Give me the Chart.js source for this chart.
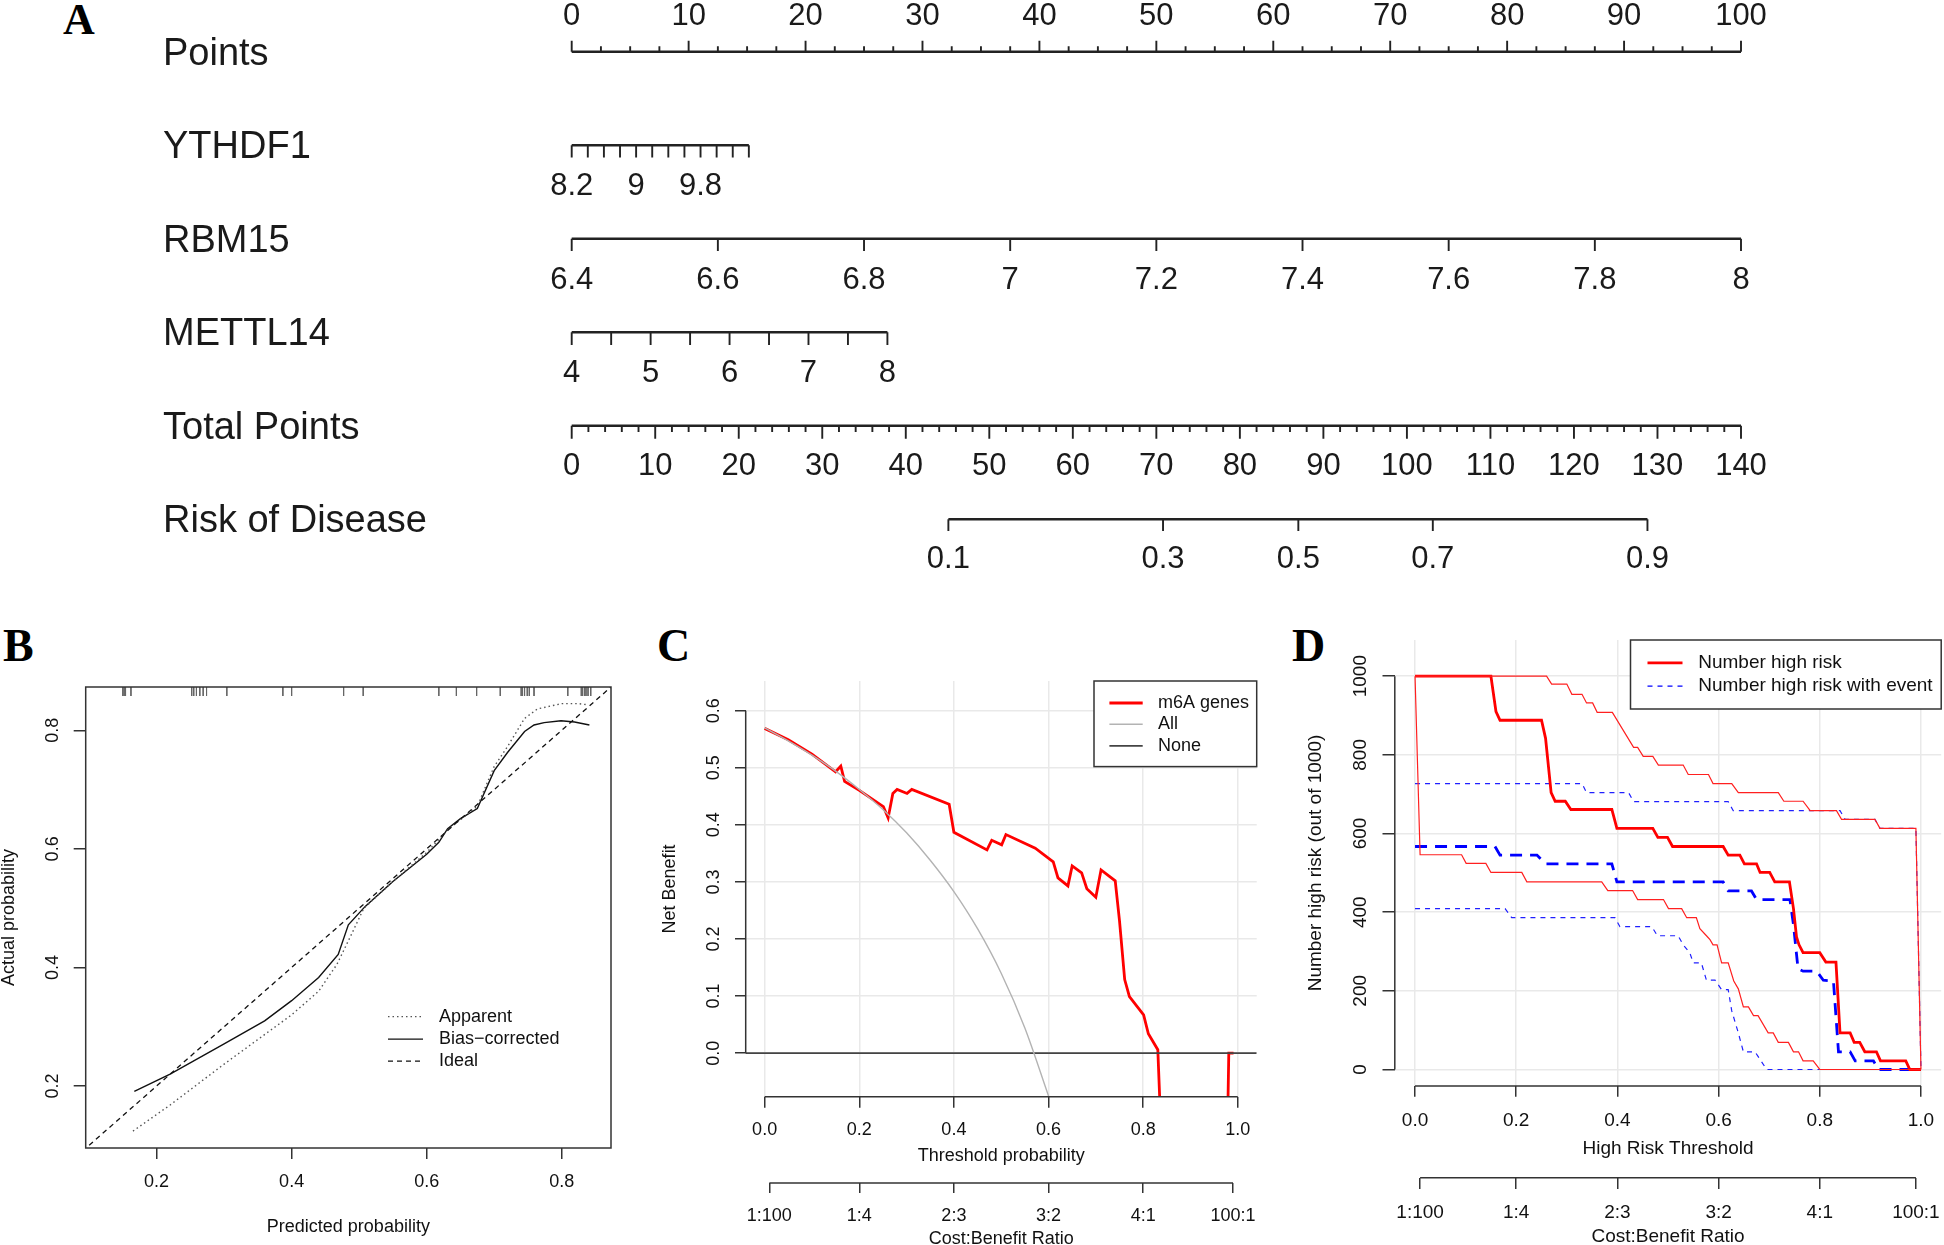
<!DOCTYPE html>
<html>
<head>
<meta charset="utf-8">
<script src="https://cdn.jsdelivr.net/npm/chart.js@4.4.1/dist/chart.umd.min.js"></script>
<style>
  html, body { margin: 0; padding: 0; background: #fff; }
  body { width: 1944px; height: 1245px; position: relative; overflow: hidden; }
  canvas { position: absolute; }
  .tag { position: absolute; font-family: "Liberation Serif", "Times New Roman", serif; font-weight: bold; line-height: 1; color: #000; }
</style>
</head>
<body>
<div class="tag" style="left:63px; top:-2px; font-size:44px;">A</div>
<div class="tag" style="left:3px; top:623px; font-size:46px;">B</div>
<div class="tag" style="left:657px; top:623px; font-size:46px;">C</div>
<div class="tag" style="left:1292px; top:623px; font-size:46px;">D</div>

<canvas id="nomo" width="1944" height="600" style="left:0; top:0;"></canvas>
<canvas id="calib" width="640" height="575" style="left:0; top:670px;"></canvas>
<canvas id="dca" width="640" height="590" style="left:640px; top:670px;"></canvas>
<canvas id="cic" width="664" height="640" style="left:1280px; top:620px;"></canvas>

<script>
// ---------- A: nomogram ----------
const nomoRows = ["Points", "YTHDF1", "RBM15", "METTL14", "Total Points", "Risk of Disease"];
const pointsTicks = [0, 10, 20, 30, 40, 50, 60, 70, 80, 90, 100];
const ythdf1Ticks = [8.2, 8.4, 8.6, 8.8, 9.0, 9.2, 9.4, 9.6, 9.8, 10.0, 10.2, 10.4];
const ythdf1Labels = [8.2, 9, 9.8];
const ythdf1Points = [0, 15.15];
const rbm15Ticks = [6.4, 6.6, 6.8, 7, 7.2, 7.4, 7.6, 7.8, 8];
const rbm15Points = [0, 100];
const mettl14Ticks = [4, 4.5, 5, 5.5, 6, 6.5, 7, 7.5, 8];
const mettl14Labels = [4, 5, 6, 7, 8];
const mettl14Points = [0, 27.0];
const totalTicks = [0, 10, 20, 30, 40, 50, 60, 70, 80, 90, 100, 110, 120, 130, 140];
const totalMax = 140;
const riskLabels = ["0.1", "0.3", "0.5", "0.7", "0.9"];
const riskTotalPoints = [45.1, 70.8, 87.0, 103.1, 128.8];

// ---------- B: calibration ----------
const calTicks = [0.2, 0.4, 0.6, 0.8];
const apparentPred = [0.165, 0.22, 0.30, 0.40, 0.44, 0.467, 0.487, 0.507, 0.55, 0.60, 0.633, 0.652, 0.675, 0.70, 0.72, 0.745, 0.764, 0.80, 0.824, 0.839];
const apparentObs  = [0.124, 0.168, 0.237, 0.320, 0.360, 0.405, 0.452, 0.500, 0.545, 0.594, 0.634, 0.651, 0.672, 0.739, 0.773, 0.820, 0.836, 0.845, 0.845, 0.843];
const biasPred = [0.167, 0.22, 0.30, 0.36, 0.40, 0.44, 0.469, 0.484, 0.509, 0.55, 0.60, 0.618, 0.631, 0.650, 0.675, 0.70, 0.72, 0.745, 0.759, 0.774, 0.799, 0.819, 0.841];
const biasObs  = [0.191, 0.220, 0.271, 0.310, 0.344, 0.383, 0.422, 0.472, 0.503, 0.545, 0.591, 0.611, 0.634, 0.651, 0.668, 0.732, 0.763, 0.798, 0.809, 0.813, 0.816, 0.814, 0.809];
const idealProb = [0, 1];
const rugPred = [0.150, 0.152, 0.154, 0.162, 0.252, 0.255, 0.259, 0.264, 0.269, 0.274, 0.304, 0.387, 0.400, 0.477, 0.506, 0.618, 0.644, 0.674, 0.709, 0.740, 0.742, 0.745, 0.749, 0.752, 0.759, 0.809, 0.829, 0.831, 0.834, 0.836, 0.839, 0.843];

// ---------- C: decision curve ----------
const probTicks = [0, 0.2, 0.4, 0.6, 0.8, 1.0];
const nbTicks = [0, 0.1, 0.2, 0.3, 0.4, 0.5, 0.6];
const costTicks = [0.01, 0.2, 0.4, 0.6, 0.8, 0.99];
const costLabels = ["1:100", "1:4", "2:3", "3:2", "4:1", "100:1"];
const nbThreshold = [0, 0.05, 0.10, 0.150, 0.161, 0.169, 0.201, 0.251, 0.261, 0.271, 0.280, 0.301, 0.311, 0.390, 0.400, 0.470, 0.480, 0.501, 0.510, 0.572, 0.610, 0.620, 0.641, 0.650, 0.670, 0.681, 0.700, 0.711, 0.741, 0.750, 0.761, 0.771, 0.801, 0.811, 0.831, 0.836, 0.90, 0.979, 0.981, 0.991];
const nbModel = [0.569, 0.549, 0.524, 0.493, 0.503, 0.476, 0.460, 0.432, 0.412, 0.455, 0.462, 0.455, 0.462, 0.436, 0.387, 0.356, 0.373, 0.365, 0.383, 0.359, 0.335, 0.307, 0.293, 0.328, 0.316, 0.288, 0.273, 0.321, 0.302, 0.232, 0.129, 0.099, 0.067, 0.034, 0.006, -0.1, null, -0.1, 0, 0];
const nbAllThreshold = [0, 0.05, 0.10, 0.15, 0.20, 0.25, 0.30, 0.35, 0.40, 0.45, 0.50, 0.55, 0.60];
const nbAll = [0.570, 0.547, 0.522, 0.494, 0.462, 0.427, 0.386, 0.338, 0.283, 0.218, 0.140, 0.044, -0.075];
const nbNoneThreshold = [-0.04, 1.04];
const nbNone = [0, 0];

// ---------- D: clinical impact ----------
const impactTicks = [0, 200, 400, 600, 800, 1000];
const highRiskX = [0, 0.150, 0.160, 0.168, 0.250, 0.258, 0.269, 0.277, 0.297, 0.308, 0.389, 0.399, 0.470, 0.480, 0.499, 0.509, 0.609, 0.619, 0.642, 0.651, 0.675, 0.682, 0.701, 0.711, 0.740, 0.748, 0.754, 0.759, 0.767, 0.800, 0.812, 0.832, 0.840, 0.860, 0.868, 0.879, 0.889, 0.912, 0.920, 0.970, 0.978, 1.0];
const highRisk  = [1000, 1000, 910, 888, 888, 842, 704, 682, 682, 661, 661, 613, 613, 590, 590, 567, 567, 545, 545, 523, 523, 501, 501, 477, 477, 409, 337, 317, 297, 297, 273, 273, 93, 93, 69, 69, 45, 45, 22, 22, 0, 0];
const highRiskUpX = [0, 0.260, 0.270, 0.300, 0.310, 0.330, 0.339, 0.351, 0.360, 0.390, 0.432, 0.440, 0.451, 0.470, 0.481, 0.530, 0.540, 0.580, 0.589, 0.626, 0.639, 0.718, 0.729, 0.767, 0.781, 0.833, 0.843, 0.909, 0.919, 0.990, 1.0];
const highRiskUp  = [1000, 1000, 980, 980, 954, 954, 932, 932, 908, 908, 819, 819, 796, 796, 774, 774, 750, 750, 727, 727, 704, 704, 682, 682, 658, 658, 636, 636, 613, 613, 0];
const highRiskLoX = [0, 0.010, 0.092, 0.101, 0.140, 0.150, 0.211, 0.221, 0.369, 0.381, 0.430, 0.440, 0.491, 0.501, 0.527, 0.537, 0.556, 0.563, 0.576, 0.583, 0.589, 0.597, 0.606, 0.619, 0.630, 0.639, 0.649, 0.659, 0.669, 0.678, 0.698, 0.708, 0.718, 0.738, 0.748, 0.758, 0.767, 0.787, 0.800, 1.0];
const highRiskLo  = [1000, 546, 546, 524, 524, 501, 501, 477, 477, 455, 455, 432, 432, 409, 409, 386, 386, 358, 340, 330, 317, 317, 271, 271, 225, 205, 159, 159, 137, 137, 93, 93, 69, 69, 45, 45, 22, 22, 0, 0];
const eventX = [0, 0.158, 0.168, 0.241, 0.258, 0.389, 0.399, 0.609, 0.619, 0.665, 0.675, 0.741, 0.748, 0.757, 0.767, 0.794, 0.807, 0.827, 0.837, 0.860, 0.870, 0.906, 0.916, 1.0];
const event  = [567, 567, 545, 545, 523, 523, 477, 477, 454, 454, 432, 432, 368, 256, 250, 250, 227, 225, 45, 45, 22, 22, 0, 0];
const eventUpX = [0, 0.330, 0.339, 0.422, 0.432, 0.619, 0.629, 0.840, 0.850, 0.909, 0.919, 0.990, 1.0];
const eventUp  = [727, 727, 704, 704, 681, 681, 658, 658, 636, 636, 613, 613, 0];
const eventLoX = [0, 0.178, 0.191, 0.395, 0.405, 0.468, 0.479, 0.520, 0.530, 0.543, 0.550, 0.566, 0.576, 0.593, 0.606, 0.619, 0.626, 0.639, 0.649, 0.672, 0.695, 1.0];
const eventLo  = [409, 409, 386, 386, 363, 363, 340, 340, 317, 297, 271, 271, 227, 227, 203, 203, 149, 93, 45, 45, 0, 0];

// ---------- common ----------
const FONT = '"Liberation Sans", Arial, sans-serif';
const AXIS = "#333";
const TEXT = "#111";
Chart.defaults.font.family = FONT;
Chart.defaults.color = TEXT;
Chart.defaults.animation = false;

const pts = (xs, ys) => xs.map((x, i) => ({ x: x, y: ys[i] }));
const lin = (v, d, p) => p[0] + (v - d[0]) * (p[1] - p[0]) / (d[1] - d[0]);

// draws a legend block, offsets relative to the plot region
function legendPlugin(cfg) {
  return {
    id: "rlegend",
    afterDatasetsDraw(chart) {
      const { ctx, chartArea: a } = chart;
      const left = cfg.right ? a.right - cfg.w : a.left + cfg.left;
      const top = a.top + (cfg.top || 0);
      ctx.save();
      if (cfg.box) {
        ctx.fillStyle = "#fff";
        ctx.fillRect(left, top, cfg.w, cfg.h);
        ctx.strokeStyle = AXIS;
        ctx.lineWidth = 1.5;
        ctx.strokeRect(left, top, cfg.w, cfg.h);
      }
      ctx.font = cfg.font;
      ctx.textBaseline = "middle";
      ctx.textAlign = "left";
      cfg.items.forEach((it, i) => {
        const y = top + cfg.rows[i];
        ctx.beginPath();
        ctx.strokeStyle = it.color;
        ctx.lineWidth = it.width;
        ctx.setLineDash(it.dash || []);
        ctx.moveTo(left + cfg.line[0], y);
        ctx.lineTo(left + cfg.line[1], y);
        ctx.stroke();
        ctx.setLineDash([]);
        ctx.fillStyle = TEXT;
        ctx.fillText(it.text, left + cfg.text, y);
      });
      ctx.restore();
    }
  };
}

// R style axis line: only between the first and last tick
const rAxisLines = {
  id: "rAxisLines",
  afterDraw(chart) {
    const ctx = chart.ctx;
    ctx.save();
    ctx.strokeStyle = AXIS;
    ctx.lineWidth = 1.5;
    Object.values(chart.scales).forEach(s => {
      if (!s.options.display || !s.ticks.length) return;
      const a = s.getPixelForValue(s.ticks[0].value);
      const b = s.getPixelForValue(s.ticks[s.ticks.length - 1].value);
      ctx.beginPath();
      if (s.isHorizontal()) { ctx.moveTo(a, s.top); ctx.lineTo(b, s.top); }
      else { ctx.moveTo(s.right, a); ctx.lineTo(s.right, b); }
      ctx.stroke();
    });
    ctx.restore();
  }
};

const boxPlugin = {
  id: "box",
  afterDraw(chart) {
    const { ctx, chartArea: a } = chart;
    ctx.save();
    ctx.strokeStyle = AXIS;
    ctx.lineWidth = 1.5;
    ctx.strokeRect(a.left, a.top, a.right - a.left, a.bottom - a.top);
    ctx.restore();
  }
};

// builds an R-like axis
function axis(o) {
  const horiz = o.horizontal;
  return {
    type: "linear",
    position: o.position,
    weight: o.weight || 0,
    min: o.min,
    max: o.max,
    afterBuildTicks: s => { s.ticks = o.ticks.map(v => ({ value: v })); },
    afterFit: s => {
      if (horiz) s.height = o.size; else s.width = o.size;
      s.paddingLeft = s.paddingRight = s.paddingTop = s.paddingBottom = 0;
    },
    border: { display: false },
    grid: {
      display: true,
      drawOnChartArea: !!o.gridOn,
      color: "#e9e9e9",
      lineWidth: 1.5,
      drawTicks: true,
      tickLength: o.tl,
      tickColor: AXIS,
      tickWidth: 1.5
    },
    ticks: horiz
      ? { autoSkip: false, maxRotation: 0, minRotation: 0, padding: o.pad, font: { size: o.fs }, color: TEXT, callback: o.fmt }
      : { autoSkip: false, minRotation: 90, maxRotation: 90, crossAlign: "center", padding: o.pad, font: { size: o.fs }, color: TEXT, callback: o.fmt },
    title: {
      display: true,
      text: o.title,
      color: TEXT,
      font: { size: o.fs },
      padding: horiz ? { top: 0, bottom: o.tpad } : { top: o.tpad, bottom: 0 }
    }
  };
}
const f1 = v => v.toFixed(1);

// ---------- A ----------
(function () {
  const TOT = v => v * 100 / totalMax;
  const specs = [
    { row: 0, dir: -1, from: 0, to: 100, off: -35,
      ticks: pointsTicks.map(v => ({ p: v, len: 0.118 })),
      labels: pointsTicks.map(v => ({ p: v, t: String(v) })) },
    { row: 1, dir: 1, from: ythdf1Points[0], to: ythdf1Points[1], off: 41.5,
      ticks: ythdf1Ticks.map(v => ({ p: lin(v, [8.2, 10.4], ythdf1Points), len: 0.131 })),
      labels: ythdf1Labels.map(v => ({ p: lin(v, [8.2, 10.4], ythdf1Points), t: String(v) })) },
    { row: 2, dir: 1, from: 0, to: 100, off: 41.5,
      ticks: rbm15Ticks.map(v => ({ p: lin(v, [6.4, 8], rbm15Points), len: 0.131 })),
      labels: rbm15Ticks.map(v => ({ p: lin(v, [6.4, 8], rbm15Points), t: String(v) })) },
    { row: 3, dir: 1, from: mettl14Points[0], to: mettl14Points[1], off: 41.5,
      ticks: mettl14Ticks.map(v => ({ p: lin(v, [4, 8], mettl14Points), len: 0.135 })),
      labels: mettl14Labels.map(v => ({ p: lin(v, [4, 8], mettl14Points), t: String(v) })) },
    { row: 4, dir: 1, from: 0, to: 100, off: 41,
      ticks: totalTicks.map(v => ({ p: TOT(v), len: 0.138 })),
      labels: totalTicks.map(v => ({ p: TOT(v), t: String(v) })) },
    { row: 5, dir: 1, from: TOT(riskTotalPoints[0]), to: TOT(riskTotalPoints[4]), off: 40.5,
      ticks: riskTotalPoints.map(v => ({ p: TOT(v), len: 0.124 })),
      labels: riskTotalPoints.map((v, i) => ({ p: TOT(v), t: riskLabels[i] })) }
  ];
  // minor ticks on Points and Total Points
  for (let v = 2.5; v < 100; v += 2.5) if (v % 10 !== 0) specs[0].ticks.push({ p: v, len: 0.059 });
  for (let v = 2; v < totalMax; v += 2) if (v % 10 !== 0) specs[4].ticks.push({ p: TOT(v), len: 0.067 });

  const lines = [], marks = [];
  specs.forEach(s => {
    lines.push({ x: s.from, y: s.row }, { x: s.to, y: s.row }, { x: s.to, y: null });
    s.ticks.forEach(t => marks.push({ x: t.p, y: s.row }, { x: t.p, y: s.row + s.dir * t.len }, { x: t.p, y: null }));
  });

  const nomoText = {
    id: "nomoText",
    afterDatasetsDraw(chart) {
      const { ctx, scales: { x, y } } = chart;
      ctx.save();
      ctx.fillStyle = "#1a1a1a";
      ctx.textBaseline = "middle";
      ctx.textAlign = "left";
      ctx.font = "38px " + FONT;
      nomoRows.forEach((name, r) => ctx.fillText(name, 163, y.getPixelForValue(r) + 2.5));
      ctx.textAlign = "center";
      ctx.font = "31px " + FONT;
      specs.forEach(s => s.labels.forEach(l => ctx.fillText(l.t, x.getPixelForValue(l.p), y.getPixelForValue(s.row) + s.off)));
      ctx.restore();
    }
  };

  new Chart(document.getElementById("nomo"), {
    type: "scatter",
    data: {
      datasets: [
        { data: lines, showLine: true, spanGaps: false, borderColor: "#222", borderWidth: 2.4, pointRadius: 0, clip: false },
        { data: marks, showLine: true, spanGaps: false, borderColor: "#222", borderWidth: 1.9, pointRadius: 0, clip: false }
      ]
    },
    options: {
      responsive: false,
      layout: { padding: { left: 571.7, right: 203, top: 51.7, bottom: 80.7 }, autoPadding: false },
      plugins: { legend: { display: false }, tooltip: { enabled: false } },
      scales: {
        x: { type: "linear", min: 0, max: 100, display: false },
        y: { type: "linear", min: 0, max: 5, reverse: true, display: false }
      }
    },
    plugins: [nomoText]
  });
})();

// ---------- B ----------
(function () {
  const yMax = 0.873;
  const rug = [];
  rugPred.forEach(v => rug.push({ x: v, y: yMax }, { x: v, y: yMax - 0.0152 }, { x: v, y: null }));
  new Chart(document.getElementById("calib"), {
    type: "scatter",
    data: {
      datasets: [
        { label: "Ideal", data: pts(idealProb, idealProb), showLine: true, borderColor: "#111", borderWidth: 1.3, borderDash: [5, 4], pointRadius: 0 },
        { label: "Apparent", data: pts(apparentPred, apparentObs), showLine: true, borderColor: "#555", borderWidth: 1.4, borderDash: [1.5, 3], pointRadius: 0 },
        { label: "Bias-corrected", data: pts(biasPred, biasObs), showLine: true, borderColor: "#111", borderWidth: 1.4, pointRadius: 0 },
        { label: "rug", data: rug, showLine: true, spanGaps: false, borderColor: "#666", borderWidth: 1, pointRadius: 0 }
      ]
    },
    options: {
      responsive: false,
      layout: { padding: { left: 0, right: 29, top: 17, bottom: 0 }, autoPadding: false },
      plugins: { legend: { display: false }, tooltip: { enabled: false } },
      scales: {
        x: axis({ horizontal: true, position: "bottom", min: 0.095, max: 0.873, ticks: calTicks, size: 97, tl: 11, pad: 12.2, fs: 18, fmt: f1, title: "Predicted probability", tpad: 7.2 }),
        y: axis({ horizontal: false, position: "left", min: 0.0955, max: yMax, ticks: calTicks, size: 85.7, tl: 12, pad: 8.2, fs: 18, fmt: f1, title: "Actual probability", tpad: -2 })
      }
    },
    plugins: [boxPlugin, legendPlugin({
      left: 302.3, top: 0, font: "18px " + FONT, line: [0, 35], text: 51, rows: [329.6, 352.1, 374.1],
      items: [
        { text: "Apparent", color: "#555", width: 1.4, dash: [1.5, 3] },
        { text: "Bias\u2212corrected", color: "#111", width: 1.4 },
        { text: "Ideal", color: "#111", width: 1.3, dash: [5, 4] }
      ]
    })]
  });
})();

// ---------- C ----------
new Chart(document.getElementById("dca"), {
  type: "scatter",
  data: {
    datasets: [
      { label: "All", data: pts(nbAllThreshold, nbAll), showLine: true, borderColor: "#b3b3b3", borderWidth: 1.4, pointRadius: 0, cubicInterpolationMode: "monotone", clip: 0 },
      { label: "None", data: pts(nbNoneThreshold, nbNone), showLine: true, borderColor: "#444", borderWidth: 1.8, pointRadius: 0, clip: 0 },
      { label: "m6A genes", data: pts(nbThreshold, nbModel), showLine: true, spanGaps: false, borderColor: "#ff0000", borderWidth: 2.8, pointRadius: 0, clip: 0 }
    ]
  },
  options: {
    responsive: false,
    layout: { padding: { left: 0, right: 23.3, top: 11, bottom: 0 }, autoPadding: false },
    plugins: { legend: { display: false }, tooltip: { enabled: false } },
    scales: {
      x: axis({ horizontal: true, position: "bottom", weight: 0, min: -0.04, max: 1.04, ticks: probTicks, size: 86.2, tl: 11, pad: 11.4, fs: 18, fmt: f1, title: "Threshold probability", tpad: 16.2, gridOn: true }),
      x2: axis({ horizontal: true, position: "bottom", weight: 1, min: -0.04, max: 1.04, ticks: costTicks, size: 77, tl: 10, pad: 12, fs: 18, fmt: (v, i) => costLabels[i], title: "Cost:Benefit Ratio", tpad: 10.2 }),
      y: axis({ horizontal: false, position: "left", min: -0.0765, max: 0.652, ticks: nbTicks, size: 105.7, tl: 10.7, pad: 8.5, fs: 18, fmt: f1, title: "Net Benefit", tpad: 19.2, gridOn: true })
    }
  },
  plugins: [rAxisLines, legendPlugin({
    right: true, box: true, w: 162.7, h: 85.6, font: "18px " + FONT, line: [15.4, 48.7], text: 64, rows: [22, 43.2, 64.8],
    items: [
      { text: "m6A genes", color: "#ff0000", width: 2.8 },
      { text: "All", color: "#b3b3b3", width: 1.4 },
      { text: "None", color: "#444", width: 1.8 }
    ]
  })]
});

// ---------- D ----------
new Chart(document.getElementById("cic"), {
  type: "scatter",
  data: {
    datasets: [
      { data: pts(highRiskUpX, highRiskUp), showLine: true, borderColor: "#ff2020", borderWidth: 1.2, pointRadius: 0 },
      { data: pts(highRiskLoX, highRiskLo), showLine: true, borderColor: "#ff2020", borderWidth: 1.2, pointRadius: 0 },
      { label: "Number high risk", data: pts(highRiskX, highRisk), showLine: true, borderColor: "#ff0000", borderWidth: 2.8, pointRadius: 0 },
      { data: pts(eventUpX, eventUp), showLine: true, borderColor: "#2020ff", borderWidth: 1.2, borderDash: [5, 5], pointRadius: 0 },
      { data: pts(eventLoX, eventLo), showLine: true, borderColor: "#2020ff", borderWidth: 1.2, borderDash: [5, 5], pointRadius: 0 },
      { label: "Number high risk with event", data: pts(eventX, event), showLine: true, borderColor: "#0000ff", borderWidth: 2.8, borderDash: [12, 8], pointRadius: 0 }
    ]
  },
  options: {
    responsive: false,
    layout: { padding: { left: 0, right: 2.8, top: 20, bottom: 0 }, autoPadding: false },
    plugins: { legend: { display: false }, tooltip: { enabled: false } },
    scales: {
      x: axis({ horizontal: true, position: "bottom", weight: 0, min: -0.04, max: 1.04, ticks: probTicks, size: 91.7, tl: 10.8, pad: 12.6, fs: 19, fmt: f1, title: "High Risk Threshold", tpad: 17.4, gridOn: true }),
      x2: axis({ horizontal: true, position: "bottom", weight: 1, min: -0.04, max: 1.04, ticks: costTicks, size: 82.3, tl: 11.3, pad: 12.6, fs: 19, fmt: (v, i) => costLabels[i], title: "Cost:Benefit Ratio", tpad: 11.6 }),
      y: axis({ horizontal: false, position: "left", min: -42, max: 1092, ticks: impactTicks, size: 114.8, tl: 12.3, pad: 0.4, fs: 19, fmt: v => String(v), title: "Number high risk (out of 1000)", tpad: 24.6, gridOn: true })
    }
  },
  plugins: [rAxisLines, legendPlugin({
    right: true, box: true, w: 310.7, h: 69, font: "19px " + FONT, line: [17, 52], text: 67.7, rows: [22.9, 46.1],
    items: [
      { text: "Number high risk", color: "#ff0000", width: 2.8 },
      { text: "Number high risk with event", color: "#0000ff", width: 1.3, dash: [5, 5] }
    ]
  })]
});
</script>
</body>
</html>
